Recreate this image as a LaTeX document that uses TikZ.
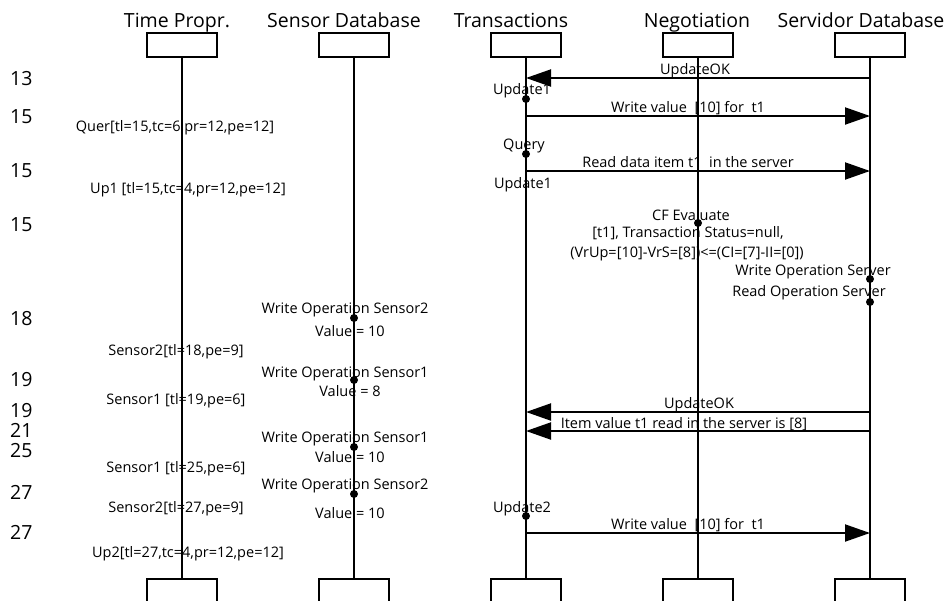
\documentclass[tikz,border=0pt]{standalone}
\usepackage{fontspec}
\setmainfont{Open Sans}
\usetikzlibrary{shapes, arrows.meta, positioning}
\tikzstyle{cabeza}=[draw, rectangle, line width=2pt,
minimum height=24pt, minimum width=70pt]
\tikzstyle{titulo}=[font=\fontsize{19.5}{21}\selectfont, anchor=base, inner sep=0pt]
\tikzstyle{tiempo}=[font=\fontsize{19.5}{21}\selectfont, anchor=base west, inner sep=0pt]
\tikzstyle{etiqueta}=[font=\fontsize{14.5}{16}\selectfont, anchor=base, inner sep=0pt]
\tikzstyle{msj}=[etiqueta, yshift=4pt]
\tikzstyle{punto}=[circle, fill, inner sep=0pt, minimum size=8pt]
\tikzstyle{vida}=[line width=2.4pt]
\tikzstyle{mensaje}=[line width=2pt, -{Triangle[length=25pt, width=17pt]}]

\begin{document}
\begin{tikzpicture}[x=1pt, y=-1pt, node distance=172pt]
		\useasboundingbox (0,0) rectangle (950,600);
		% cabezas de las lineas de vida
		\node[cabeza] (tp) at (182,45) {};
		\node[cabeza, right of=tp] (sd) {};
		\node[cabeza, right of=sd] (tr) {};
		\node[cabeza, right of=tr] (ng) {};
		\node[cabeza, right of=ng] (sv) {};
		\node[titulo] (ttp) at (177,27) {Time Propr.};
		\node[titulo] (tsd) at (344,27) {Sensor Database};
		\node[titulo] (ttr) at (511,27) {Transactions};
		\node[titulo] (tng) at (697,27) {Negotiation};
		\node[titulo] (tsv) at (861,27) {Servidor Database};
		\node[cabeza, anchor=north] (tpb) at (tp |- 0,578) {};
		\node[cabeza, anchor=north] (sdb) at (sd |- 0,578) {};
		\node[cabeza, anchor=north] (trb) at (tr |- 0,578) {};
		\node[cabeza, anchor=north] (ngb) at (ng |- 0,578) {};
		\node[cabeza, anchor=north] (svb) at (sv |- 0,578) {};
		\draw[vida] (tp) -- (tpb);
		\draw[vida] (sd) -- (sdb);
		\draw[vida] (tr) -- (trb);
		\draw[vida] (ng) -- (ngb);
		\draw[vida] (sv) -- (svb);
		% instantes
		\node[tiempo] (n1) at (10,85) {13};
		\node[tiempo] (n2) at (10,123) {15};
		\node[tiempo] (n3) at (10,177) {15};
		\node[tiempo] (n4) at (10,231) {15};
		\node[tiempo] (n5) at (10,325) {18};
		\node[tiempo] (n6) at (10,386) {19};
		\node[tiempo] (n7) at (10,417) {19};
		\node[tiempo] (n8) at (10,437) {21};
		\node[tiempo] (n9) at (10,457) {25};
		\node[tiempo] (n10) at (10,499) {27};
		\node[tiempo] (n11) at (10,539) {27};
		% tiempos de propagacion
		\node[etiqueta] (quer) at (175,131) {Quer[tl=15,tc=6,pr=12,pe=12]};
		\node[etiqueta] (up1) at (188,193) {Up1 [tl=15,tc=4,pr=12,pe=12]};
		\node[etiqueta] (s2a) at (176,355) {Sensor2[tl=18,pe=9]};
		\node[etiqueta] (s1a) at (176,404) {Sensor1 [tl=19,pe=6]};
		\node[etiqueta] (s1b) at (176,472) {Sensor1 [tl=25,pe=6]};
		\node[etiqueta] (s2b) at (176,512) {Sensor2[tl=27,pe=9]};
		\node[etiqueta] (up2) at (188,557) {Up2[tl=27,tc=4,pr=12,pe=12]};
		% escrituras de los sensores
		\node[punto] (w1) at (sd |- 0,318) {};
		\node[etiqueta] at (345,313) {Write Operation Sensor2};
		\node[etiqueta] at (350,336) {Value = 10};
		\node[punto] (w2) at (sd |- 0,380) {};
		\node[etiqueta] at (345,377) {Write Operation Sensor1};
		\node[etiqueta] at (350,396) {Value = 8};
		\node[punto] (w3) at (sd |- 0,447) {};
		\node[etiqueta] at (345,442) {Write Operation Sensor1};
		\node[etiqueta] at (350,462) {Value = 10};
		\node[punto] (w4) at (sd |- 0,494) {};
		\node[etiqueta] at (345,489) {Write Operation Sensor2};
		\node[etiqueta] at (350,518) {Value = 10};
		% transacciones
		\draw[mensaje] (sv |- 0,78) -- node[msj, xshift=-3pt] {UpdateOK} (tr |- 0,78);
		\node[punto] (u1) at (tr |- 0,99) {};
		\node[etiqueta] at (522,94) {Update1};
		\draw[mensaje] (tr |- 0,116) -- node[msj, xshift=-10pt] {Write value~ [10] for~ t1} (sv |- 0,116);
		\node[punto] (q1) at (tr |- 0,154) {};
		\node[etiqueta] at (524,149) {Query};
		\draw[mensaje] (tr |- 0,171) -- node[msj, xshift=-10pt] {Read data item t1~ in the server} (sv |- 0,171);
		\node[etiqueta] at (523,188) {Update1};
		% negociacion
		\node[punto] (cf) at (ng |- 0,223) {};
		\node[etiqueta] at (691,220) {CF Evaluate};
		\node[etiqueta] at (688,237) {[t1], Transaction Status=null,};
		\node[etiqueta] at (687,257) {(VrUp=[10]-VrS=[8])<=(CI=[7]-II=[0])};
		% servidor
		\node[punto] (ws) at (sv |- 0,279) {};
		\node[etiqueta] at (813,275) {Write Operation Server};
		\node[punto] (rs) at (sv |- 0,302) {};
		\node[etiqueta] at (809,296) {Read Operation Server};
		\draw[mensaje] (sv |- 0,412) -- node[msj, xshift=1pt] {UpdateOK} (tr |- 0,412);
		\draw[mensaje] (sv |- 0,431) -- node[msj, xshift=-14pt, yshift=-1pt] {Item value t1 read in the server is [8]} (tr |- 0,431);
		\node[punto] (u2) at (tr |- 0,516) {};
		\node[etiqueta] at (522,512) {Update2};
		\draw[mensaje] (tr |- 0,533) -- node[msj, xshift=-10pt] {Write value~ [10] for~ t1} (sv |- 0,533);
	\end{tikzpicture}
\end{document}
